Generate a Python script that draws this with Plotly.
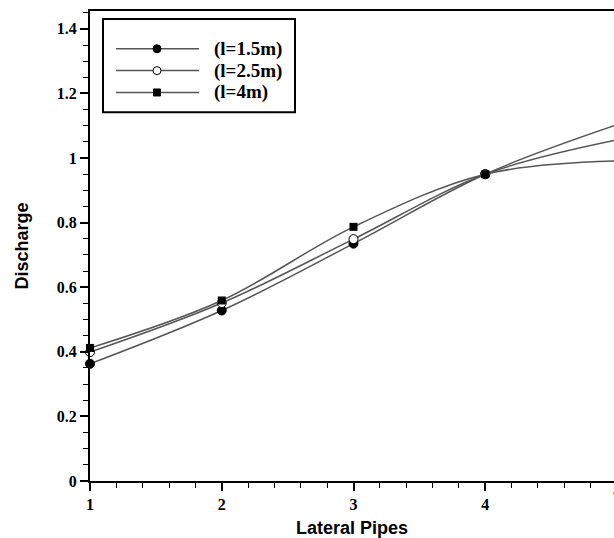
import plotly.graph_objects as go

# ---- data ----
lateral_pipes = [1, 2, 3, 4, 5]
q_l15 = [0.363, 0.528, 0.735, 0.950, 1.103]
q_l25 = [0.399, 0.551, 0.749, 0.950, 1.056]
q_l40 = [0.412, 0.559, 0.787, 0.950, 0.991]
series_names = ["(l=1.5m)", "(l=2.5m)", "(l=4m)"]
y_ticks = [0, 0.2, 0.4, 0.6, 0.8, 1, 1.2, 1.4]
x_ticks = [1, 2, 3, 4, 5]

W, H = 614, 538
L, T, B = 90, 11, 54
plot_w = W - L
plot_h = H - T - B

def px(xp):
    return (xp - L) / plot_w

def py(yp):
    return (H - B - yp) / plot_h

LINE_C = "#555555"
serif = "Liberation Serif, Times New Roman, serif"
sans = "Liberation Sans, Arial, sans-serif"

styles = [
    dict(symbol="circle", size=9, color="black", line=dict(color="black", width=1)),
    dict(symbol="circle", size=9, color="white", line=dict(color="black", width=1)),
    dict(symbol="square", size=8, color="black", line=dict(color="black", width=0)),
]

fig = go.Figure()
for ys, name, st in zip([q_l15, q_l25, q_l40], series_names, styles):
    fig.add_trace(go.Scatter(
        x=lateral_pipes, y=ys, name=name, mode="lines+markers",
        line=dict(color=LINE_C, width=1.5, shape="spline", smoothing=1.0),
        marker=st, cliponaxis=False, showlegend=False,
    ))

# x range chosen so that x=5 falls just beyond the right edge (as in reference)
x_end = 1 + (W - L) / ((617 - L) / 4.0)

fig.update_layout(
    width=W, height=H,
    margin=dict(l=L, r=0, t=T, b=B, pad=0),
    paper_bgcolor="white", plot_bgcolor="white",
    showlegend=False,
    xaxis=dict(
        range=[1, x_end], tickvals=x_ticks[:-1], ticktext=[str(v) for v in x_ticks[:-1]],
        ticks="outside", ticklen=8, tickwidth=1.5, tickcolor="black",
        showline=True, linewidth=2, linecolor="black", mirror=True,
        showgrid=False, zeroline=False,
        minor=dict(dtick=0.2, tick0=1, ticks="outside", ticklen=5, tickwidth=1.2, tickcolor="black"),
        tickfont=dict(family=serif, size=16, color="black", weight="bold"),
        title=dict(text="<b>Lateral Pipes</b>", font=dict(family=sans, size=18, color="black"), standoff=12),
    ),
    yaxis=dict(
        range=[0, (H - B - T) / 325.0], tickvals=y_ticks,
        ticks="outside", ticklen=8, tickwidth=1.5, tickcolor="black",
        showline=True, linewidth=2, linecolor="black", mirror=False,
        showgrid=False, zeroline=False,
        minor=dict(dtick=0.05, tick0=0, ticks="outside", ticklen=5, tickwidth=1.2, tickcolor="black"),
        tickfont=dict(family=serif, size=16, color="black", weight="bold"),
        title=dict(text="<b>Discharge</b>", font=dict(family=sans, size=18, color="black"), standoff=23),
    ),
)

# partially visible "5" tick label at right edge
fig.add_annotation(x=px(617), y=py(493), xref="paper", yref="paper", text="<b>5</b>",
                   showarrow=False, xanchor="center", yanchor="middle",
                   font=dict(family=serif, size=16, color="black"))

# ---- manual legend ----
shapes = [dict(type="rect", xref="paper", yref="paper",
               x0=px(103), x1=px(295), y0=py(113), y1=py(19),
               line=dict(color="black", width=2), fillcolor="white", layer="above")]
rows = [49, 71, 93]
for r, name, st in zip(rows, series_names, styles):
    shapes.append(dict(type="line", xref="paper", yref="paper",
                       x0=px(116), x1=px(199), y0=py(r), y1=py(r),
                       line=dict(color=LINE_C, width=1.5), layer="above"))
    s = 4 if st["symbol"] == "circle" else 3.5
    shapes.append(dict(type="circle" if st["symbol"] == "circle" else "rect",
                       xref="paper", yref="paper", xsizemode="pixel", ysizemode="pixel",
                       xanchor=px(157), yanchor=py(r), x0=-s, x1=s, y0=-s, y1=s,
                       fillcolor=st["color"], line=dict(color="black", width=1), layer="above"))
    fig.add_annotation(x=px(212), y=py(r), xref="paper", yref="paper", text="<b>" + name + "</b>",
                       showarrow=False, xanchor="left", yanchor="middle",
                       font=dict(family=serif, size=19, color="black"))
fig.update_layout(shapes=shapes)

fig.write_html("out.html", config={"displayModeBar": False},
               post_script="document.body.style.margin='0px';document.body.style.overflow='hidden';")
